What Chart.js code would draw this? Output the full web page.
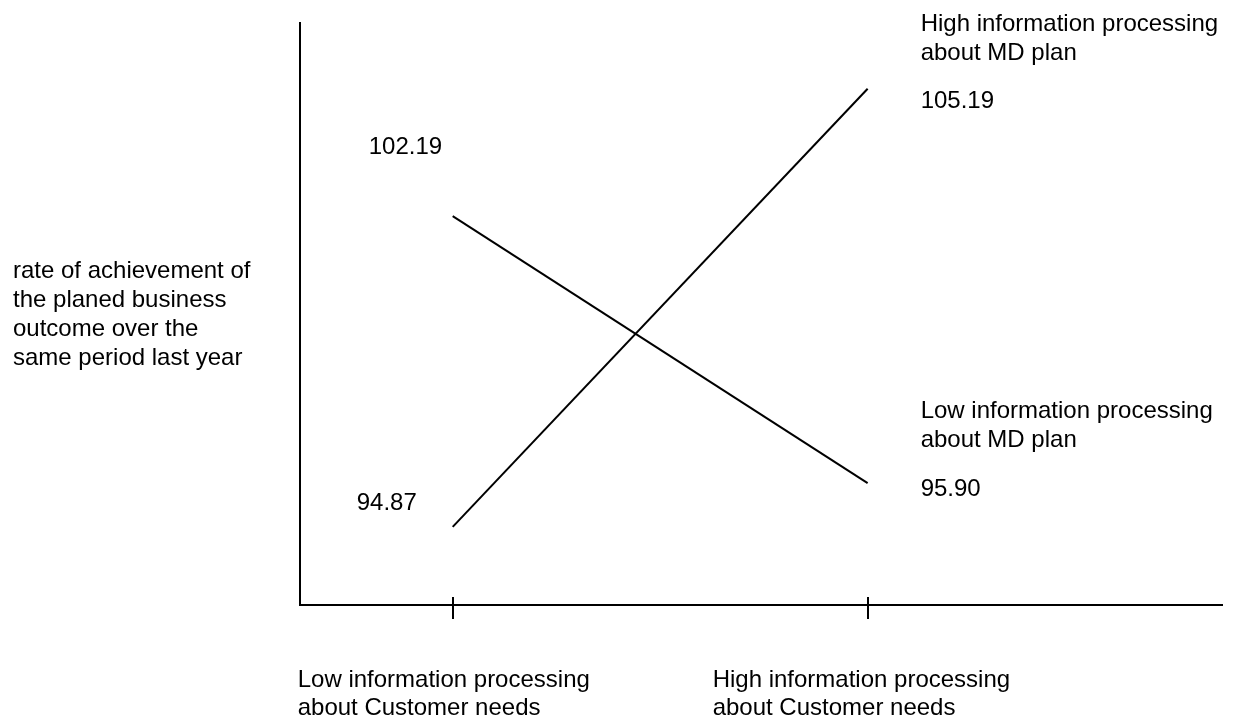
<!DOCTYPE html>
<html>
<head>
<meta charset="utf-8">
<script src="https://cdn.jsdelivr.net/npm/chart.js@4"></script>
<style>
  html, body { margin: 0; padding: 0; background: #fff; }
</style>
</head>
<body>
<canvas id="chart" width="1235" height="719"></canvas>
<script>
const categories = [
    ["Low information processing", "about Customer needs"],
    ["High information processing", "about Customer needs"]
];
const seriesNames = [
    ["Low information processing", "about MD plan"],
    ["High information processing", "about MD plan"]
];
const lowMD = [102.19, 95.90];
const highMD = [94.87, 105.19];
const yTitle = ["rate of achievement of", "the planed business", "outcome over the", "same period last year"];

const FONT = "24px 'Liberation Sans', Arial, sans-serif";

function toPoints(values) {
    return values.map((v, i) => ({ x: i, y: v }));
}

// value labels: x offset from the point, baseline
const startLabels = [[-84, 154], [-96, 510]];
const endLabels = [[53, 496], [53, 108]];
// series names next to the right end, baselines of each line
const seriesBaselines = [[418, 447], [31, 60]];

const labelPlugin = {
    id: "labels",
    afterDraw(chart) {
        const ctx = chart.ctx;
        const xs = chart.scales.x;
        const area = chart.chartArea;
        ctx.save();

        // tick marks that cross the x axis
        ctx.strokeStyle = "#000";
        ctx.lineWidth = 2;
        categories.forEach((c, i) => {
            const px = Math.round(xs.getPixelForValue(i));
            ctx.beginPath();
            ctx.moveTo(px, area.bottom - 8);
            ctx.lineTo(px, area.bottom + 14);
            ctx.stroke();
        });

        ctx.fillStyle = "#000";
        ctx.font = FONT;
        ctx.textAlign = "left";
        ctx.textBaseline = "alphabetic";

        // category labels under the axis
        categories.forEach((lines, i) => {
            const px = xs.getPixelForValue(i) - 155;
            lines.forEach((t, j) => ctx.fillText(t, px, area.bottom + 82 + j * 28));
        });

        // y title on the left
        yTitle.forEach((t, j) => ctx.fillText(t, 13, 278 + j * 29));

        // value labels and series names
        chart.data.datasets.forEach((ds, d) => {
            const pts = chart.getDatasetMeta(d).data;
            const first = pts[0], last = pts[pts.length - 1];
            ctx.fillText(ds.data[0].y.toFixed(2), first.x + startLabels[d][0], startLabels[d][1]);
            ctx.fillText(ds.data[pts.length - 1].y.toFixed(2), last.x + endLabels[d][0], endLabels[d][1]);
            seriesNames[d].forEach((t, j) => ctx.fillText(t, last.x + 53, seriesBaselines[d][j]));
        });

        ctx.restore();
    }
};

new Chart(document.getElementById("chart"), {
    type: "line",
    data: {
        datasets: [
            { label: seriesNames[0].join(" "), data: toPoints(lowMD) },
            { label: seriesNames[1].join(" "), data: toPoints(highMD) }
        ]
    },
    options: {
        responsive: false,
        animation: false,
        devicePixelRatio: 1,
        layout: { padding: { left: 300, right: 13, top: 23, bottom: 114 } },
        elements: {
            line: { borderColor: "#000", borderWidth: 2, tension: 0, fill: false },
            point: { radius: 0, hoverRadius: 0 }
        },
        scales: {
            x: {
                type: "linear",
                min: -0.368,
                max: 1.854,
                ticks: { display: false },
                grid: { drawOnChartArea: false, drawTicks: false },
                border: { display: true, color: "#000", width: 2 }
            },
            y: {
                type: "linear",
                min: 93.03,
                max: 106.74,
                ticks: { display: false },
                grid: { drawOnChartArea: false, drawTicks: false },
                border: { display: true, color: "#000", width: 2 }
            }
        },
        plugins: {
            legend: { display: false },
            tooltip: { enabled: false }
        }
    },
    plugins: [labelPlugin]
});
</script>
</body>
</html>
